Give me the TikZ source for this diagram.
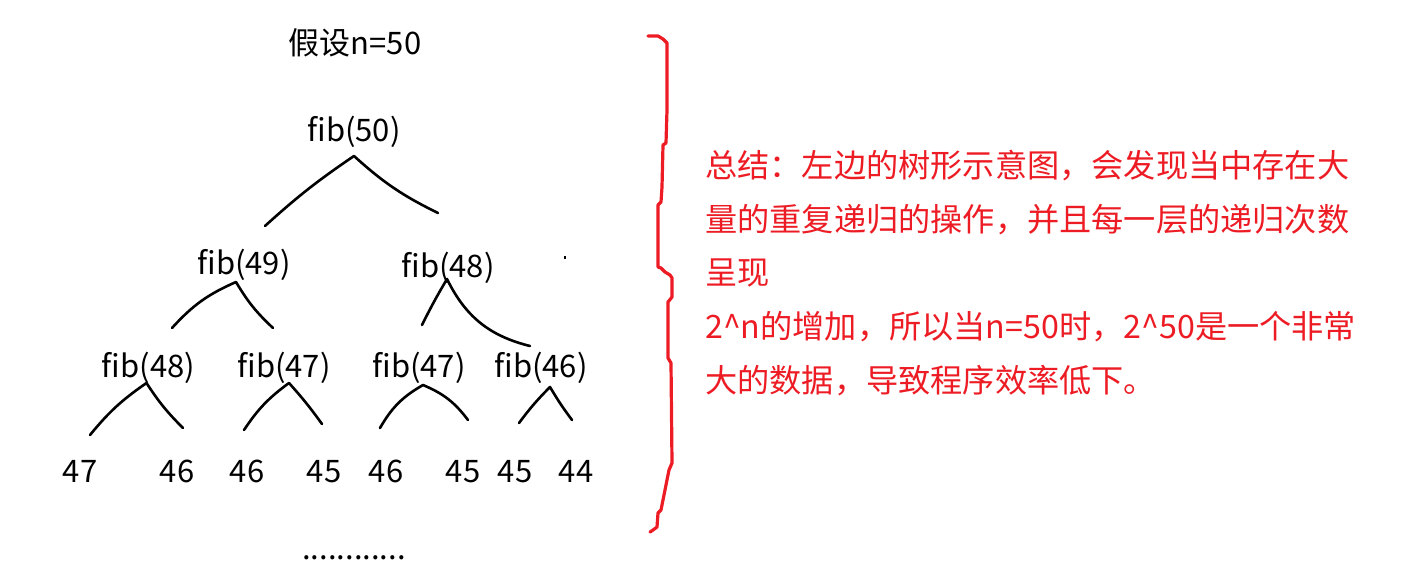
\documentclass[tikz,border=0pt]{standalone}
\usepackage{fontspec}
\setmainfont{Noto Sans CJK SC}
\definecolor{paintred}{RGB}{237,28,36}

\begin{document}
\begin{tikzpicture}[x=1pt, y=-1pt,
      lbl/.style={anchor=base, inner sep=0pt, text depth=0pt, font=\fontsize{31}{50}\selectfont},
      note/.style={lbl, anchor=base west, text=paintred, font=\fontsize{32.2}{53.5}\selectfont},
      br/.style={line width=2.6pt, line cap=round, line join=round},
      brace/.style={line width=3.2pt, draw=paintred, line cap=round, line join=round}]

\useasboundingbox (0,0) rectangle (1403,575);

                 \node [lbl] at (355,55) (title) {假设n=50};
              \node [lbl] at (354,141.5) (f50) {fib(50)};
                   \node [lbl] at (244,274) (f49) {fib(49)};
                   \node [lbl] at (448,277) (f48b) {fib(48)};
                        \node [lbl] at (148.5,377) (f48a) {fib(48)};
                        \node [lbl] at (284,377) (f47a) {fib(47)};
                        \node [lbl] at (419,377) (f47b) {fib(47)};
                        \node [lbl] at (541,377) (f46) {fib(46)};
                          \node [lbl] at (80,482) (v1) {47};
                          \node [lbl] at (177,482) (v2) {46};
                          \node [lbl] at (247,482) (v3) {46};
                          \node [lbl] at (324,482) (v4) {45};
                          \node [lbl] at (386,482) (v5) {46};
                          \node [lbl] at (463,482) (v6) {45};
                          \node [lbl] at (515,482) (v7) {45};
                          \node [lbl] at (576,482) (v8) {44};
                           \node [lbl] at (354,559) (dots) {............};
%
\coordinate (l50) at (265,226);  \coordinate (r50) at (438,213);
\coordinate (l49) at (172,328);  \coordinate (r49) at (273,328);
\coordinate (l48b) at (422,325); \coordinate (r48b) at (530,346);
\coordinate (l48a) at (90,435);  \coordinate (r48a) at (183,428);
\coordinate (l47a) at (244,430); \coordinate (r47a) at (322,424);
\coordinate (l47b) at (380,428); \coordinate (r47b) at (468,420);
\coordinate (l46) at (519,423);  \coordinate (r46) at (572,420);
%
\draw[br] (l50) to[bend left=4] ([yshift=-14.5pt]f50.base) to[bend right=8] (r50);
\draw[br] (l49) to[bend left=12] ([xshift=-8pt,yshift=-8pt]f49.base) to[bend right=8] (r49);
\draw[br] (l48b) to[bend left=2] ([xshift=-1pt,yshift=-2pt]f48b.base) to[bend right=25] (r48b);
\draw[br] (l48a) to[bend left=8] ([xshift=-2pt,yshift=-6pt]f48a.base) to[bend right=6] (r48a);
\draw[br] (l47a) to[bend left=10] ([xshift=5pt,yshift=-6pt]f47a.base) to[bend left=3] (r47a);
\draw[br] (l47b) to[bend left=15] ([xshift=4pt,yshift=-8pt]f47b.base) to[bend left=15] (r47b);
\draw[br] (l46) to[bend left=4] ([xshift=9pt,yshift=-10pt]f46.base) to[bend right=3] (r46);
\draw[line width=1.5pt] (565,256) -- (565,259);
%
                           \draw [brace] (648,36) -- (658,36) -- (663,39) -- (667,43) -- (667,110)
                             -- (666,143) -- (663,145) -- (662,187) -- (661,202) -- (658,205) -- (658,267)
                             -- (661,268) -- (665,272) -- (670,275) -- (672,278) -- (672,297) -- (668,302)
                             -- (668,358) -- (671,363) -- (672,463) -- (669,470) -- (665,490) -- (661,510)
                             -- (658,513) -- (657,527) -- (653,530) -- (650,532); %%%%
%
  \node [note] at (705,177) (t1) {总结：左边的树形示意图，会发现当中存在大};
  \node [note] at (705,231) (t2) {量的重复递归的操作，并且每一层的递归次数};
  \node [note] at (705,284) (t3) {呈现};
  \node [note] at (705,338) (t4) {2\textasciicircum n的增加，所以当n=50时，2\textasciicircum 50是一个非常};
  \node [note] at (705,392) (t5) {大的数据，导致程序效率低下。};
%

\end{tikzpicture}
\end{document}
